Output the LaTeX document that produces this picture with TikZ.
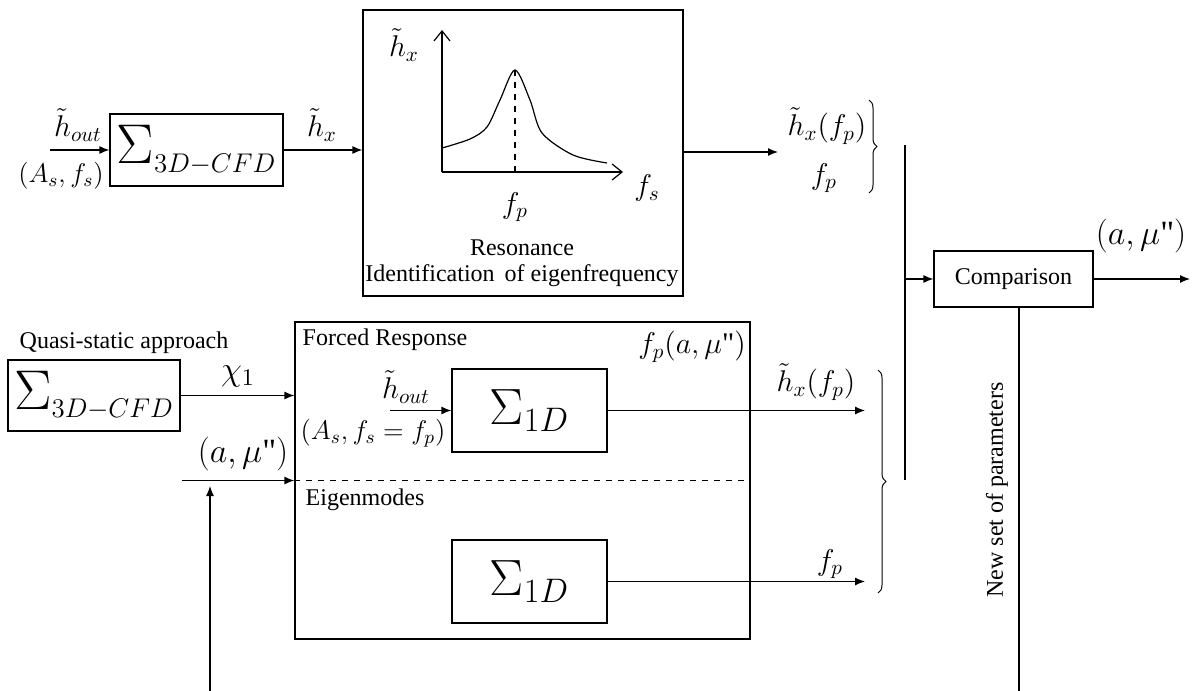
\RequirePackage{fix-cm}
\documentclass[tikz,border=0pt]{standalone}
\usepackage{fontspec}
\setmainfont{Liberation Serif}
\usetikzlibrary{arrows.meta,decorations.pathreplacing}
\newcommand{\sigsys}[3]{{\fontsize{#1}{#1}\selectfont$\Sigma_{\mbox{\fontsize{#2}{#2}\selectfont$#3$}}$}}
\newcommand{\amu}{\bigl(a,\mu\mbox{\textquotedbl}\bigr)}

\begin{document}
\begin{tikzpicture}[
  x=0.5pt, y=-0.5pt,
  every node/.style={font=\fontsize{12}{14}\selectfont, inner sep=1pt},
  blk/.style={draw, line width=0.6pt, inner sep=0pt},
  line/.style={line width=0.6pt},
  arr/.style={line width=0.6pt, -{Latex[length=5pt,width=4pt]}},
  axis/.style={line width=0.6pt, -{Straight Barb[length=5pt,width=8pt]}},
  brc/.style={line width=0.5pt, decorate, decoration={brace, amplitude=4pt}},
  mth/.style={font=\fontsize{15}{17}\selectfont},
  sml/.style={font=\fontsize{13.5}{15}\selectfont},
  big/.style={font=\fontsize{17}{19}\selectfont},
]
\def\scl{0.5pt}
\useasboundingbox (0,0) rectangle (1195,691);

% upper path: 3D-CFD forced run and resonance
\node[blk, minimum width=173*\scl, minimum height=72*\scl] (cfd1) at (196.5,150) {\sigsys{28}{13.5}{3D{-}CFD}};
\coordinate (in1) at (50,150);
\draw[arr] (in1) -- (cfd1.west);
\node[mth] (hout1) at (78,125) {$\tilde h_{out}$};
\node[sml] (as1) at (61,176) {$\bigl(A_s, f_s\bigr)$};

\node[blk, minimum width=320*\scl, minimum height=286*\scl] (reso) at (523,153) {};
\draw[arr] (cfd1.east) -- (cfd1.east -| reso.west);
\node[mth] (hx1) at (322,125) {$\tilde h_x$};

\coordinate (o) at (442,172);
\coordinate (ytop) at (442,30);
\coordinate (xend) at (623,172);
\coordinate (pk) at (515,70);
\draw[axis] (o) -- (ytop);
\draw[axis] (o) -- (xend);
\draw[line, dashed] (pk |- o) -- (pk);
\draw[line] plot[smooth] coordinates {(442,148) (470,139) (487,127) (500,100) (515,70) (530,100) (542,133) (573,155) (607,163)};
\node[mth] (hx0) at (404,45) {$\tilde h_x$};
\node[mth] (fs0) at (647,188) {$f_s$};
\node[mth] (fp0) at (515,207) {$f_p$};
\node (reso1) at (522,248) {Resonance};
\node (reso2) at (522,276) {Identification\, of eigenfrequency};

\coordinate (out1) at (778,152);
\draw[arr] (reso.east |- out1) -- (out1);
\node[mth] (hxfp1) at (827,126) {$\tilde h_x\bigl(f_p\bigr)$};
\node[mth] (fp1) at (824,178) {$f_p$};
\draw[brc] (869,100) -- (869,193);

% comparison
\coordinate (c1) at (905,145);
\coordinate (c2) at (905,480);
\draw[line] (c1) -- (c2);
\node[blk, minimum width=159*\scl, minimum height=56*\scl] (cmp) at (1013.5,279) {Comparison};
\draw[arr] (c1 |- cmp.west) -- (cmp.west);
\coordinate (out2) at (1190,279);
\draw[arr] (cmp.east) -- (out2);
\node[big] (amu1) at (1141,236) {$\amu$};
\coordinate (fb) at (1019,691);
\draw[line] (cmp.south -| fb) -- (fb);
\node[rotate=90] (newp) at (997,490) {New set of parameters};

% lower path: 1D model
\node (qs) at (124,343) {Quasi-static approach};
\node[blk, minimum width=172*\scl, minimum height=71*\scl] (cfd2) at (94,395.5) {\sigsys{28}{13.5}{3D{-}CFD}};
\node[blk, minimum width=455*\scl, minimum height=317*\scl] (outer) at (522.5,480.5) {};
\draw[arr] (cfd2.east) -- (cfd2.east -| outer.west);
\node[big] (chi) at (238,376) {$\chi_1$};
\coordinate (ain) at (182,480.5);
\draw[arr] (ain) -- (outer.west);
\node[big] (amu2) at (243,454) {$\amu$};
\coordinate (fbin) at (210,691);
\coordinate (fbend) at (210,486);
\draw[arr] (fbin) -- (fbend);
\draw[line, dashed] (outer.west) -- (outer.east);

\node (forced) at (385,340) {Forced Response};
\node[mth] (fpamu) at (692,347) {$f_p\amu$};
\node (eig) at (365,500) {Eigenmodes};

\node[blk, minimum width=155*\scl, minimum height=83*\scl] (sysf) at (529.5,410.5) {\sigsys{25.5}{17}{1D}};
\coordinate (inf) at (390,410.5);
\draw[arr] (inf) -- (sysf.west);
\node[mth] (hout2) at (406,387) {$\tilde h_{out}$};
\node[sml] (as2) at (373,433) {$\bigl(A_s, f_s=f_p\bigr)$};
\coordinate (outf) at (865,410.5);
\draw[arr] (sysf.east) -- (outf);
\node[mth] (hxfp2) at (816,382) {$\tilde h_x\bigl(f_p\bigr)$};

\node[blk, minimum width=155*\scl, minimum height=83*\scl] (syse) at (529.5,581.5) {\sigsys{25.5}{17}{1D}};
\coordinate (oute) at (865,581.5);
\draw[arr] (syse.east) -- (oute);
\node[mth] (fp2) at (830,564) {$f_p$};
\draw[brc] (878,370) -- (878,593);
\end{tikzpicture}
\end{document}
